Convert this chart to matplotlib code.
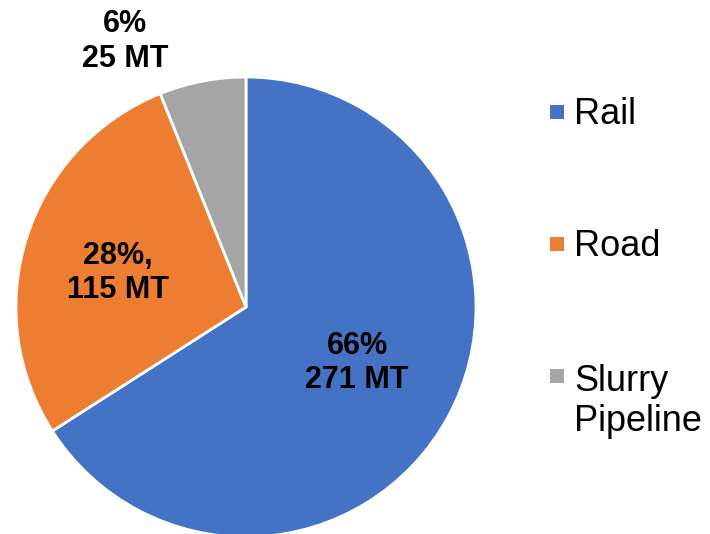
import matplotlib.pyplot as plt
from matplotlib.patches import Rectangle

plt.rcParams['font.family'] = ['Liberation Sans', 'DejaVu Sans']

# data
modes = ['Rail', 'Road', 'Slurry\nPipeline']
tonnes = [271, 115, 25]
shares = ['66%', '28%,', '6%']
colors = ['#4472C4', '#ED7D31', '#A5A5A5']

# label positions (in units of the pie radius)
label_xy = [(0.483, -0.243), (-0.557, 0.148), (-0.526, 1.155)]

W, H = 710, 534
fig = plt.figure(figsize=(W / 100, H / 100), dpi=100)
ax = fig.add_axes([16 / W, -3 / H, 460 / W, 460 / H])

wedges, _ = ax.pie(tonnes, colors=colors, startangle=90, counterclock=False,
                   radius=1, wedgeprops=dict(edgecolor='white', linewidth=2))
ax.set_xlim(-1, 1)
ax.set_ylim(-1, 1)
ax.set_aspect('equal')
for w in wedges:
    w.set_clip_on(False)

for (x, y), s, t in zip(label_xy, shares, tonnes):
    ax.text(x, y, f'{s}\n{t} MT', ha='center', va='center', fontsize=22,
            fontweight='bold', color='black')

# legend, drawn by hand so the marker sits on the first text line
for i, (m, c) in enumerate(zip(modes, colors)):
    yc = 112 + 132 * i  # pixel row of the first line's centre
    extra = 42.5 * m.count('\n')  # baseline anchor is the last line
    fig.add_artist(Rectangle((550 / W, 1 - (yc + 7) / H), 14 / W, 14 / H,
                             transform=fig.transFigure, facecolor=c, edgecolor='none'))
    fig.text(574 / W, 1 - (yc + 12.5 + extra) / H, m, fontsize=26, va='baseline',
             ha='left', color='black')

fig.savefig('out.png', dpi=100)
